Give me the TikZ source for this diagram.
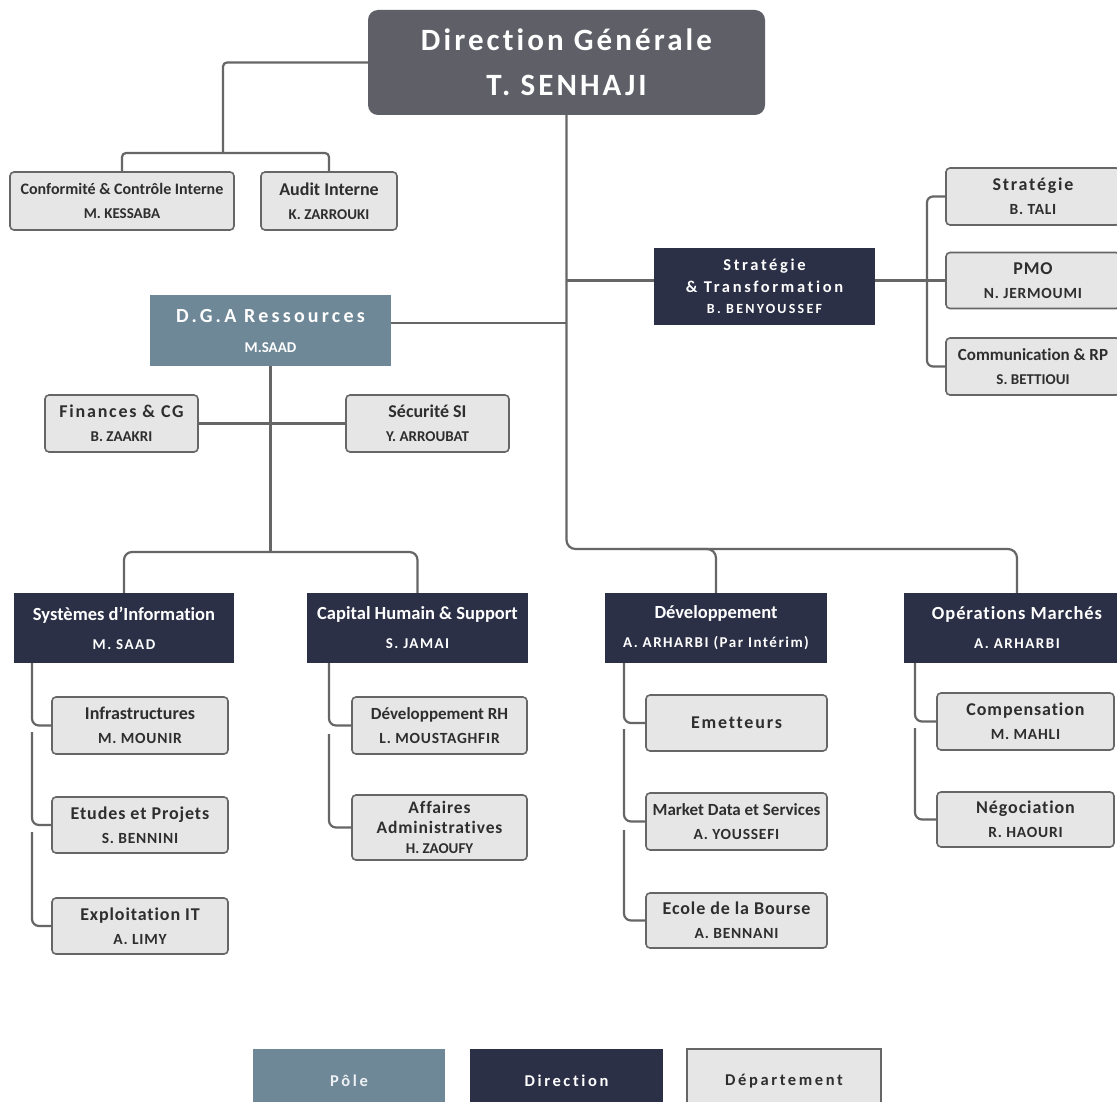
\documentclass[tikz,border=0pt]{standalone}
\usepackage{fontspec}
\setmainfont{Carlito}[Ligatures=NoCommon]
\newfontfamily\spA[LetterSpace=5,Ligatures=NoCommon]{Carlito}
\newfontfamily\spB[LetterSpace=10,Ligatures=NoCommon]{Carlito}
\newfontfamily\spC[LetterSpace=16,Ligatures=NoCommon]{Carlito}
\definecolor{topgray}{HTML}{5E5F67}
\definecolor{navy}{HTML}{2C3047}
\definecolor{slate}{HTML}{6F8898}
\definecolor{deptfill}{HTML}{E6E6E6}
\definecolor{linec}{HTML}{666666}
\definecolor{depttext}{HTML}{2E2E2E}
\newcommand\nmA[1]{{\spA\fontsize{15.5}{24}\selectfont #1}}
\newcommand\nmB[1]{{\spB\fontsize{15}{29}\selectfont #1}}
\tikzset{
  sz/.style 2 args={minimum width=#1, minimum height=#2},
  dept/.style={draw=linec, line width=1.6pt, fill=deptfill, rounded corners=4pt, text=depttext,
    inner sep=0pt, align=center, font=\bfseries\fontsize{18}{24}\selectfont},
  dirb/.style={fill=navy, text=white, inner sep=0pt, align=center, font=\bfseries\fontsize{18.5}{29}\selectfont},
  poleb/.style={fill=slate, text=white, inner sep=0pt, align=center},
  topb/.style={fill=topgray, text=white, rounded corners=10pt, inner sep=0pt, align=center,
    font=\bfseries\spB\fontsize{31}{45}\selectfont},
  conn/.style={draw=linec, line width=2.2pt, rounded corners=4pt},
  legend/.style={inner sep=0pt, align=center, font=\bfseries\spC\fontsize{16.5}{20}\selectfont}
}
\begin{document}
\begin{tikzpicture}[x=1pt,y=-1pt]
\useasboundingbox[fill=white] (0,0) rectangle (1117,1102);

% ---------- nodes ----------
\node[topb, sz={397}{105}] (dg) at (566.5,62.5) {Direction Générale\\T. SENHAJI};

\node[dept, sz={224}{58}, font=\bfseries\fontsize{16}{24}\selectfont] (conf) at (122,201) {Conformité \& Contrôle Interne\\{\fontsize{15}{24}\selectfont M. KESSABA}};
\node[dept, sz={136}{58}] (audit) at (329,201) {Audit Interne\\{\fontsize{15}{24}\selectfont K. ZARROUKI}};

\node[poleb, sz={241}{71}, font=\bfseries\fontsize{20}{30}\selectfont] (dga) at (270.5,330.5) {{\spC D.G.A Ressources}\\{\fontsize{15}{30}\selectfont M.SAAD}};
\node[dept, sz={153}{57}] (fin) at (121.5,423.5) {{\spB Finances \& CG}\\{\fontsize{15}{24}\selectfont B. ZAAKRI}};
\node[dept, sz={163}{57}] (sec) at (427.5,423.5) {Sécurité SI\\{\fontsize{15}{24}\selectfont Y. ARROUBAT}};

\node[dirb, sz={221}{77}, font=\bfseries\spC\fontsize{16.5}{21.5}\selectfont] (st) at (764.5,286.5) {Stratégie\\\& Transformation\\{\fontsize{14}{21.5}\selectfont B. BENYOUSSEF}};
\node[dept, sz={174}{57}] (strat) at (1033,196.5) {{\spB Stratégie}\\\nmA{B. TALI}};
\node[dept, sz={174}{56}] (pmo) at (1033,280.5) {{\spA PMO}\\\nmA{N. JERMOUMI}};
\node[dept, sz={174}{57}, font=\bfseries\fontsize{17}{24}\selectfont] (comm) at (1033,366.5) {Communication \& RP\\{\fontsize{15}{24}\selectfont S. BETTIOUI}};

\node[dirb, sz={220}{70}] (sys) at (124,628) {Systèmes d'Information\\\nmB{M. SAAD}};
\node[dirb, sz={221}{70}] (cap) at (417.5,628) {Capital Humain \& Support\\\nmB{S. JAMAI}};
\node[dirb, sz={222}{70}] (dev) at (716,628) {Développement\\\nmB{A. ARHARBI (Par Intérim)}};
\node[dirb, sz={226}{70}] (ops) at (1017,628) {{\spA Opérations Marchés}\\\nmB{A. ARHARBI}};

\node[dept, sz={176}{57}] (infra) at (140,725.5) {Infrastructures\\\nmA{M. MOUNIR}};
\node[dept, sz={176}{56}] (etud) at (140,825) {{\spA Etudes et Projets}\\\nmA{S. BENNINI}};
\node[dept, sz={176}{56}] (expl) at (140,926) {{\spA Exploitation IT}\\\nmA{A. LIMY}};

\node[dept, sz={175}{57}, font=\bfseries\fontsize{17}{24}\selectfont] (rh) at (439.5,725.5) {Développement RH\\\nmA{L. MOUSTAGHFIR}};
\node[dept, sz={175}{65}, font=\bfseries\fontsize{17.5}{20}\selectfont] (aff) at (439.5,827.5) {{\spA Affaires}\\{\spA Administratives}\\{\fontsize{15}{20}\selectfont H. ZAOUFY}};

\node[dept, sz={181}{56}] (emet) at (736.5,723) {{\spB Emetteurs}};
\node[dept, sz={181}{57}, font=\bfseries\fontsize{17}{24}\selectfont] (mkt) at (736.5,821.5) {Market Data et Services\\\nmA{A. YOUSSEFI}};
\node[dept, sz={181}{55}] (ecole) at (736.5,920.5) {{\spA Ecole de la Bourse}\\\nmA{A. BENNANI}};

\node[dept, sz={177}{57}] (comp) at (1025.5,721.5) {{\spA Compensation}\\\nmA{M. MAHLI}};
\node[dept, sz={177}{55}] (nego) at (1025.5,819.5) {{\spA Négociation}\\\nmA{R. HAOURI}};

% legend
\node[poleb, legend, sz={192}{64}, text=white!88!slate] (lp) at (349,1081) {Pôle};
\node[dirb, legend, sz={193}{64}] (ld) at (566.5,1081) {Direction};
\node[dept, legend, rounded corners=0pt, sz={194}{64}] (ldep) at (784,1081) {Département};

% ---------- connectors ----------
\coordinate (jTL) at (223,153);
\draw[conn] (dg.west) -| (jTL);
\draw[conn] (conf.north) |- (jTL) -| (audit.north);

\coordinate (yH) at (0,549);
\coordinate (yHd) at (640,549);
\draw[conn, rounded corners=9pt] (dg.south) -- (dg.south |- yH) -| (ops.north);
\draw[conn, rounded corners=9pt] (yHd) -| (dev.north);

\draw[conn] (pmo.west -| dg.south) -- (pmo.west -| st.west);
\draw[conn] (pmo.west -| st.east) -- (pmo.west);
\coordinate (xR) at (927,0);
\draw[conn, rounded corners=6pt] (strat.west) -- (strat.west -| xR) -- (comm.west -| xR) -- (comm.west);

\coordinate (yD) at (0,323);
\draw[conn] (dga.east |- yD) -- (dg.south |- yD);
\coordinate (yL) at (0,552);
\draw[conn] (dga.south) -- (dga.south |- yL);
\draw[conn, rounded corners=8pt] (sys.north) |- (dga.south |- yL) -| (cap.north);
\draw[conn] (fin.east) -- (sec.west);

% sub connectors
\coordinate (xS) at (32,0);
\coordinate (xC) at (329,0);
\coordinate (xD) at (624,0);
\coordinate (xO) at (915,0);
\draw[conn, rounded corners=7pt] (sys.south -| xS) -- (infra.west -| xS) -- (infra.west);
\coordinate (s2) at (32,732);
\draw[conn, rounded corners=7pt] (s2) -- (etud.west -| xS) -- (etud.west);
\coordinate (s3) at (32,832);
\draw[conn, rounded corners=7pt] (s3) -- (expl.west -| xS) -- (expl.west);

\draw[conn, rounded corners=7pt] (cap.south -| xC) -- (rh.west -| xC) -- (rh.west);
\coordinate (c2) at (329,734);
\draw[conn, rounded corners=7pt] (c2) -- (aff.west -| xC) -- (aff.west);

\draw[conn, rounded corners=7pt] (dev.south -| xD) -- (emet.west -| xD) -- (emet.west);
\coordinate (d2) at (624,729);
\draw[conn, rounded corners=7pt] (d2) -- (mkt.west -| xD) -- (mkt.west);
\coordinate (d3) at (624,830);
\draw[conn, rounded corners=7pt] (d3) -- (ecole.west -| xD) -- (ecole.west);

\draw[conn, rounded corners=7pt] (ops.south -| xO) -- (comp.west -| xO) -- (comp.west);
\coordinate (o2) at (915,728);
\draw[conn, rounded corners=7pt] (o2) -- (nego.west -| xO) -- (nego.west);
\end{tikzpicture}
\end{document}
